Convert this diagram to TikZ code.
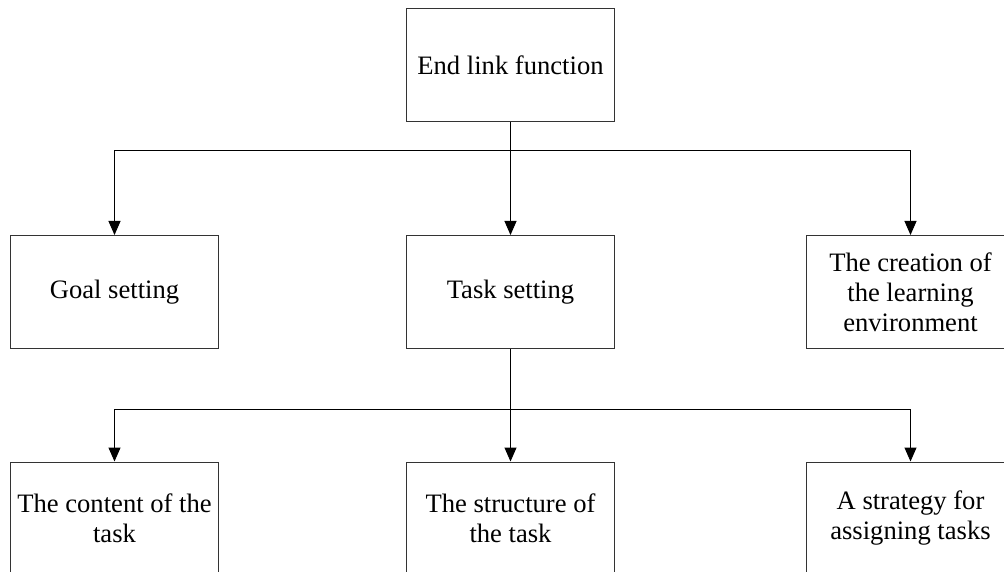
\documentclass[tikz,border=0pt]{standalone}
\usepackage{fontspec}
\setmainfont{Liberation Serif}
\usetikzlibrary{arrows.meta}
\begin{document}
\begin{tikzpicture}[x=1pt,y=-1pt,
  box/.style={draw=black!80, line width=1pt, minimum width=208pt, minimum height=113pt,
    inner sep=0pt, align=center, font=\fontsize{26.6}{30}\selectfont},
  link/.style={draw=black, line width=1pt},
  arr/.style={link, -{Triangle[length=14pt,width=12pt]}}]
\useasboundingbox (0,0) rectangle (1004,572);
\clip (0,0) rectangle (1004,572);

% top level
\node[box] (top) at (510.5,65) {End link function};

% second level
\node[box] (goal) at (114.5,292) {Goal setting};
\node[box] (task) at (510.5,292) {Task setting};
\node[box] (env)  at (910.5,292) {The creation of\\the learning\\environment};

% third level
\node[box] (content)  at (114.5,518.5) {The content of the\\task};
\node[box] (struct)   at (510.5,518.5) {The structure of\\the task};
\node[box] (strategy) at (910.5,518.5) {A strategy for\\assigning tasks};

% branch points
\coordinate (j1) at (510.5,150.5);
\coordinate (j2) at (510.5,409.5);

\draw[link] (top.south) -- (j1);
\draw[arr] (j1) -| (goal.north);
\draw[arr] (j1) -- (task.north);
\draw[arr] (j1) -| (env.north);

\draw[link] (task.south) -- (j2);
\draw[arr] (j2) -| (content.north);
\draw[arr] (j2) -- (struct.north);
\draw[arr] (j2) -| (strategy.north);
\end{tikzpicture}
\end{document}
